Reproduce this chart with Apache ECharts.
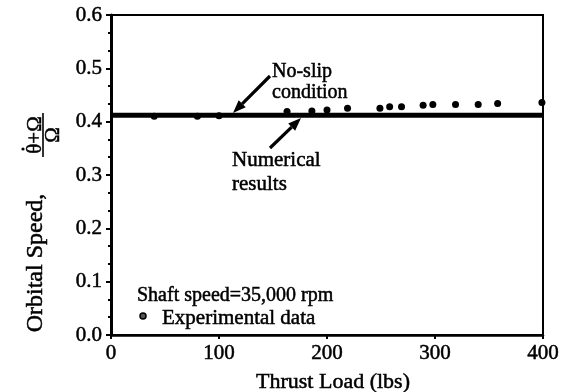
<!DOCTYPE html>
<html>
<head>
<meta charset="utf-8">
<script src="https://cdn.jsdelivr.net/npm/echarts@6/dist/echarts.min.js"></script>
<style>
  html, body { margin: 0; padding: 0; background: #fff; }
  #chart { width: 564px; height: 392px; }
</style>
</head>
<body>
<div id="chart"></div>
<script>
// Thrust load (lbs) at each measured point
const loads = [40, 80, 100, 163, 186, 200, 219, 249, 258, 269, 289, 298, 319, 340, 358, 399];
// Measured orbital speed ratio at those loads
const measured = [0.410, 0.410, 0.411, 0.419, 0.420, 0.422, 0.425, 0.425, 0.428, 0.428, 0.431, 0.432, 0.432, 0.432, 0.434, 0.436];
// Theoretical no-slip ratio and computed results across the load range
const lineLoads = [0, 400];
const noSlip = [0.410, 0.410];
const numerical = [0.414, 0.414];
// Axis ticks
const xTicks = [0, 100, 200, 300, 400];
const yTicks = [0.0, 0.1, 0.2, 0.3, 0.4, 0.5, 0.6];

const FONT = '"Liberation Serif", "DejaVu Serif", serif';
// a thin outline thickens the serif glyphs a little
const INK = { fill: '#000', stroke: '#000', lineWidth: 0.5 };

const chart = echarts.init(document.getElementById('chart'), null, { renderer: 'canvas' });

// Arrow made of a shaft and a filled head, pointing from (x1,y1) to (x2,y2)
function arrow(x1, y1, x2, y2) {
  const dx = x2 - x1, dy = y2 - y1;
  const len = Math.sqrt(dx * dx + dy * dy);
  const ux = dx / len, uy = dy / len;
  const hl = 13, hw = 5;
  const bx = x2 - ux * hl, by = y2 - uy * hl;
  return [
    { type: 'line', shape: { x1: x1, y1: y1, x2: bx, y2: by },
      style: { stroke: '#000', lineWidth: 3.2 }, z: 10 },
    { type: 'polygon',
      shape: { points: [[x2, y2], [bx - uy * hw, by + ux * hw], [bx + uy * hw, by - ux * hw]] },
      style: { fill: '#000' }, z: 10 }
  ];
}

function label(text, x, y, size, extra) {
  return Object.assign({ type: 'text', x: x, y: y,
    style: Object.assign({ text: text, font: size + 'px ' + FONT, align: 'left', verticalAlign: 'middle' }, INK) }, extra || {});
}

const axisLabelStyle = { color: '#000', fontFamily: FONT, fontSize: 21, textBorderColor: '#000', textBorderWidth: 0.5 };

const option = {
  backgroundColor: '#fff',
  animation: false,
  grid: { left: 111, right: 21, top: 15, bottom: 57, show: true, borderColor: '#000', borderWidth: 2 },
  xAxis: {
    type: 'value', min: xTicks[0], max: xTicks[xTicks.length - 1], interval: 100,
    axisLine: { show: true, lineStyle: { color: '#000', width: 2.5 } },
    axisTick: { show: true, length: 4, lineStyle: { color: '#000', width: 2 } },
    splitLine: { show: false },
    axisLabel: Object.assign({ margin: 8 }, axisLabelStyle)
  },
  yAxis: {
    type: 'value', min: yTicks[0], max: yTicks[yTicks.length - 1], interval: 0.1,
    axisLine: { show: true, lineStyle: { color: '#000', width: 3 } },
    axisTick: { show: true, length: 5, lineStyle: { color: '#000', width: 2 } },
    minorTick: { show: true, splitNumber: 3, length: 3, lineStyle: { color: '#000', width: 2 } },
    splitLine: { show: false },
    axisLabel: Object.assign({ margin: 9, formatter: v => v.toFixed(1) }, axisLabelStyle)
  },
  series: [
    { name: 'No-slip condition', type: 'line', symbol: 'none',
      data: lineLoads.map((x, i) => [x, noSlip[i]]),
      lineStyle: { color: '#000', width: 3 }, z: 3 },
    { name: 'Numerical results', type: 'line', symbol: 'none',
      data: lineLoads.map((x, i) => [x, numerical[i]]),
      lineStyle: { color: '#000', width: 3 }, z: 3 },
    { name: 'Experimental data', type: 'scatter', symbol: 'circle', symbolSize: 7,
      data: loads.map((x, i) => [x, measured[i]]),
      itemStyle: { color: '#000', opacity: 1 }, z: 4 }
  ],
  graphic: [
    // x-axis title
    label('Thrust Load (lbs)', 333, 382, 22, { style: Object.assign({ text: 'Thrust Load (lbs)', font: '22px ' + FONT, align: 'center', verticalAlign: 'middle' }, INK) }),
    // y-axis title: "Orbital Speed," followed by the fraction (θ̇+Ω)/Ω
    { type: 'text', x: 36, y: 263, rotation: Math.PI / 2,
      style: Object.assign({ text: 'Orbital Speed,', font: '24px ' + FONT, align: 'center', verticalAlign: 'middle' }, INK) },
    { type: 'group', x: 43, y: 135, rotation: Math.PI / 2,
      children: [
        { type: 'text', x: 0, y: -8,
          style: Object.assign({ text: 'θ+Ω', font: '21px ' + FONT, align: 'center', verticalAlign: 'middle' }, INK) },
        { type: 'circle', shape: { cx: -14, cy: -20, r: 1.6 }, style: { fill: '#000' } },
        { type: 'line', shape: { x1: -22, y1: 0, x2: 22, y2: 0 }, style: { stroke: '#000', lineWidth: 1.6 } },
        { type: 'text', x: 0, y: 10,
          style: Object.assign({ text: 'Ω', font: '21px ' + FONT, align: 'center', verticalAlign: 'middle' }, INK) }
      ] },
    // annotations
    { type: 'text', x: 272, y: 61,
      style: Object.assign({ text: 'No-slip\ncondition', font: '20px ' + FONT, lineHeight: 21, align: 'left', verticalAlign: 'top' }, INK) },
    { type: 'text', x: 232, y: 148,
      style: Object.assign({ text: 'Numerical\nresults', font: '21px ' + FONT, lineHeight: 24, align: 'left', verticalAlign: 'top' }, INK) },
    ...arrow(270, 76, 233, 113),
    ...arrow(270, 148, 301, 118),
    // legend block
    label('Shaft speed=35,000 rpm', 137, 296, 20),
    { type: 'circle', shape: { cx: 143, cy: 316, r: 3 },
      style: { fill: '#555', stroke: '#000', lineWidth: 1.5 } },
    label('Experimental data', 162, 318, 21)
  ]
};

chart.setOption(option);
</script>
</body>
</html>
